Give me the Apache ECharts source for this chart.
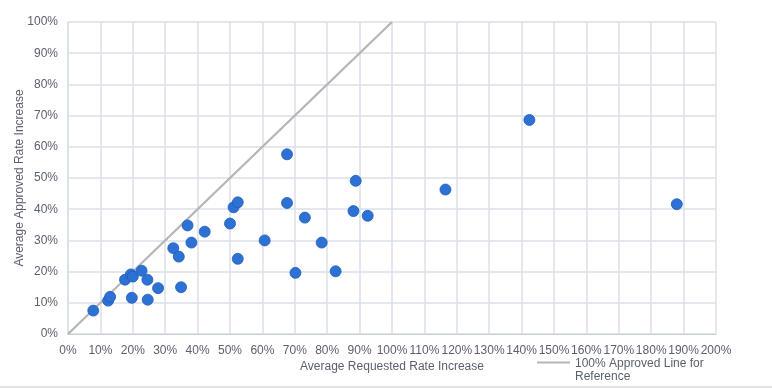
<!DOCTYPE html>
<html>
<head>
<meta charset="utf-8">
<script src="https://cdn.jsdelivr.net/npm/echarts@6/dist/echarts.min.js"></script>
<style>html,body{margin:0;padding:0;background:#fff}#c{width:772px;height:388px}</style>
</head>
<body>
<div id="c"></div>
<script>
// Average Requested Rate Increase (%)
const requested = [7.8,12.4,13.0,17.6,19.4,20.0,22.7,24.5,19.7,24.6,27.8,32.5,34.2,34.9,36.9,38.1,42.2,50.0,51.1,52.4,52.4,60.7,67.6,67.6,73.1,70.2,78.3,82.6,88.8,88.1,92.5,116.5,142.4,187.9];
// Average Approved Rate Increase (%)
const approved  = [7.5,10.7,11.9,17.4,19.1,18.4,20.3,17.4,11.6,11.0,14.7,27.5,24.8,15.0,34.8,29.3,32.8,35.4,40.6,42.2,24.1,30.0,57.6,42.0,37.3,19.6,29.3,20.1,49.1,39.4,37.9,46.3,68.6,41.6];
// Reference line endpoints
const refX = [0, 100];
const refY = [0, 100];
const refName = '100% Approved Line for\nReference';

const pts = requested.map((x, i) => [x, approved[i]]);
const refPts = refX.map((x, i) => [x, refY[i]]);

const labelColor = '#5a6070';
const gridColor = '#dbe0e8';
const font = 'Liberation Sans, Arial, sans-serif';

const chart = echarts.init(document.getElementById('c'), null, {renderer: 'canvas'});
chart.setOption({
  animation: false,
  backgroundColor: '#fff',
  grid: {left: 68, right: 56, top: 22, bottom: 54, containLabel: false, outerBoundsMode: 'none'},
  xAxis: {
    type: 'value', min: 0, max: 200, interval: 10,
    name: 'Average Requested Rate Increase', nameLocation: 'middle', nameGap: 27, nameMoveOverlap: false,
    nameTextStyle: {color: labelColor, fontSize: 12, fontFamily: font, verticalAlign: 'top'},
    axisLine: {show: true, lineStyle: {color: '#c9ced8', width: 1}},
    axisTick: {show: false},
    axisLabel: {formatter: '{value}%', color: labelColor, fontSize: 12, fontFamily: font, margin: 11},
    splitLine: {show: true, lineStyle: {color: gridColor, width: 1.5}}
  },
  yAxis: {
    type: 'value', min: 0, max: 100, interval: 10,
    name: 'Average Approved Rate Increase', nameLocation: 'middle', nameGap: 42, nameMoveOverlap: false,
    nameTextStyle: {color: labelColor, fontSize: 12, fontFamily: font},
    axisLine: {show: true, lineStyle: {color: gridColor, width: 1.5}},
    axisTick: {show: false},
    axisLabel: {formatter: '{value}%', color: labelColor, fontSize: 12, fontFamily: font, margin: 10},
    splitLine: {show: true, lineStyle: {color: gridColor, width: 1.5}}
  },
  legend: {
    data: [refName],
    left: 537, top: 357, padding: 0,
    itemWidth: 33, itemHeight: 26, itemGap: 4,
    icon: 'path://M0,0 L0.01,0 L0,0.01 Z M0,4.5 L33,4.5 L33,6.5 L0,6.5 Z M0,26 L0.01,26 L0,25.99 Z',
    textStyle: {color: labelColor, fontSize: 12, fontFamily: font, lineHeight: 13}
  },
  series: [
    {
      name: refName, type: 'line', data: refPts, showSymbol: false, symbol: 'none',
      lineStyle: {color: '#b5b5b5', width: 2.2}, itemStyle: {color: '#b5b5b5'}, z: 1,
      silent: true
    },
    {
      name: 'Data', type: 'scatter', data: pts, symbolSize: 11,
      itemStyle: {color: '#2d71d4', borderColor: '#1f5cb8', borderWidth: 0.8, opacity: 1}, z: 3
    }
  ],
  graphic: [{
    type: 'rect', left: 0, top: 386, shape: {width: 772, height: 2}, style: {fill: '#e3e3e3'}, silent: true
  }]
});
</script>
</body>
</html>
